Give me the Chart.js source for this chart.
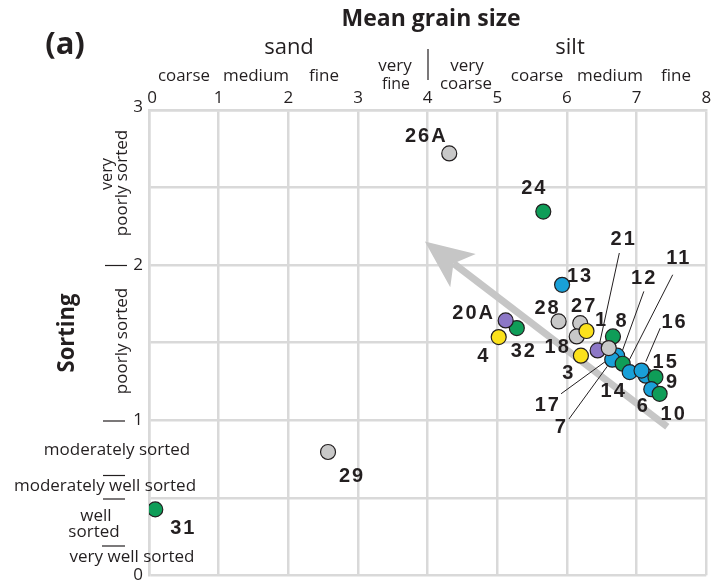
<!DOCTYPE html>
<html>
<head>
<meta charset="utf-8">
<script src="https://cdn.jsdelivr.net/npm/chart.js@4.4.1/dist/chart.umd.min.js"></script>
<style>
  html, body { margin: 0; padding: 0; background: #fff; }
  #wrap { width: 715px; height: 584px; }
</style>
</head>
<body>
<div id="wrap"><canvas id="grainChart" width="715" height="584"></canvas></div>
<script>
// sample data (mean grain size in phi, sorting)
const sampleIds = ['31', '29', '26A', '24', '13', '28', '27', '18', '1', '3', '32', '20A', '4',
                   '8', '21', '12', '7', '17', '11', '14', '15', '16', '9', '6', '10'];
const meanSize  = [0.09, 2.57, 4.31, 5.66, 5.93, 5.88, 6.19, 6.14, 6.28, 6.20, 5.28, 5.12, 5.02,
                   6.66, 6.44, 6.72, 6.65, 6.60, 6.80, 6.90, 7.13, 7.07, 7.27, 7.21, 7.33];
const sorting   = [0.425, 0.795, 2.72, 2.345, 1.873, 1.637, 1.626, 1.54, 1.575, 1.416, 1.594, 1.643, 1.536,
                   1.54, 1.45, 1.416, 1.39, 1.465, 1.364, 1.31, 1.287, 1.32, 1.278, 1.2, 1.17];
const groups    = ['green', 'gray', 'gray', 'green', 'blue', 'gray', 'gray', 'gray', 'yellow', 'yellow', 'green', 'purple', 'yellow',
                   'green', 'purple', 'blue', 'blue', 'gray', 'green', 'blue', 'blue', 'blue', 'green', 'blue', 'green'];
const xTicks = [0, 1, 2, 3, 4, 5, 6, 7, 8];
const yTicks = [0, 1, 2, 3];

// trend arrow (from fine/poor to coarse/poorer)
const arrowFrom = { x: 7.44, y: 0.958 };
const arrowTo   = { x: 3.96, y: 2.152 };

const palette = {
    green: '#0f9d58',
    gray: '#c8c8c8',
    blue: '#19a0d8',
    yellow: '#fbe11b',
    purple: '#8c77c6'
};

// label placement, pixels relative to the point (dx, dy) + optional leader line
const labelPos = {
    '31': [27, 19], '29': [23, 24], '26A': [-24, -17], '24': [-10, -23], '13': [17, -8],
    '28': [-12, -13], '27': [3, -17], '18': [-20, 11], '1': [14, -11], '3': [-13, 18],
    '32': [6, 23], '20A': [-33, -7], '4': [-16, 19], '8': [8, -15],
    '21': [25, -111, [21.7, -97.4, 1.7, -5.7]],
    '12': [26, -77, [26.7, -64.3, 5, -4.3]],
    '7': [-52, 68, [-43.3, 59.3, -5, 6.7]],
    '17': [-62, 57, [-47.7, 45.7, -1, 11.7]],
    '11': [55, -105, [50, -89, 6.7, -4]],
    '14': [-17, 19], '15': [19, -13],
    '16': [32, -48, [18.7, -42.4, 4.3, -9]],
    '9': [16, 5], '6': [-9, 17], '10': [13, 21]
};

const SANS = '"Open Sans", "Noto Sans", sans-serif';
const BOLD_LBL = 'bold 20px "Liberation Sans", Arial, sans-serif';
const INK = '#231f20';
const GRID = '#d9d9d9';

// text round the plot: [text, x, y, font, maxWidth, rotated]
const sideText = [
    ['(a)', 65, 45, 'bold 31px ' + SANS, 60],
    ['Mean grain size', 431, 19, 'bold 23px ' + SANS, 213],
    ['sand', 289, 48, '22px ' + SANS, 62],
    ['silt', 570, 48, '22px ' + SANS, 44],
    ['coarse', 184, 76, '17px ' + SANS, 52],
    ['medium', 256, 76, '17px ' + SANS, 69],
    ['fine', 324, 76, '17px ' + SANS, 31],
    ['very', 395, 66, '17px ' + SANS, 34],
    ['fine', 396, 84, '17px ' + SANS, 28],
    ['very', 467, 66, '17px ' + SANS, 35],
    ['coarse', 466, 84, '17px ' + SANS, 52],
    ['coarse', 537, 76, '17px ' + SANS, 55],
    ['medium', 610, 76, '17px ' + SANS, 70],
    ['fine', 676, 76, '17px ' + SANS, 32],
    ['very', 107, 174, '17px ' + SANS, 32, true],
    ['poorly sorted', 122, 183, '17px ' + SANS, 107, true],
    ['poorly sorted', 122, 341, '17px ' + SANS, 108, true],
    ['Sorting', 67, 333, 'bold 24px ' + SANS, 79, true],
    ['moderately sorted', 117, 450, '17px ' + SANS, 150],
    ['moderately well sorted', 105, 486, '17px ' + SANS, 186],
    ['well', 96, 516, '17px ' + SANS, 35],
    ['sorted', 94, 532, '17px ' + SANS, 52],
    ['very well sorted', 132, 557, '17px ' + SANS, 129]
];
// short separator strokes: [x1, x2, y]
const sideRules = [[105, 127, 265.5], [103, 125, 421], [103, 125, 475.5], [103, 125, 499], [102, 125, 546]];

const decorPlugin = {
    id: 'decor',
    beforeDatasetsDraw(chart) {
        const { ctx, scales: { x, y } } = chart;
        // arrow
        const x1 = x.getPixelForValue(arrowFrom.x), y1 = y.getPixelForValue(arrowFrom.y);
        const x2 = x.getPixelForValue(arrowTo.x), y2 = y.getPixelForValue(arrowTo.y);
        const ang = Math.atan2(y2 - y1, x2 - x1);
        const headLen = 48, headHalf = 21, notch = 36;
        ctx.save();
        ctx.strokeStyle = '#c6c6c6';
        ctx.fillStyle = '#c6c6c6';
        ctx.lineWidth = 7;
        ctx.beginPath();
        ctx.moveTo(x1, y1);
        ctx.lineTo(x2 - Math.cos(ang) * notch, y2 - Math.sin(ang) * notch);
        ctx.stroke();
        const bx = x2 - Math.cos(ang) * headLen, by = y2 - Math.sin(ang) * headLen;
        const nx = -Math.sin(ang), ny = Math.cos(ang);
        ctx.beginPath();
        ctx.moveTo(x2, y2);
        ctx.lineTo(bx + nx * headHalf, by + ny * headHalf);
        ctx.lineTo(x2 - Math.cos(ang) * notch, y2 - Math.sin(ang) * notch);
        ctx.lineTo(bx - nx * headHalf, by - ny * headHalf);
        ctx.closePath();
        ctx.fill();

        // leader lines
        ctx.strokeStyle = INK;
        ctx.lineWidth = 1;
        sampleIds.forEach((id, i) => {
            const p = labelPos[id];
            if (!p || !p[2]) return;
            const px = x.getPixelForValue(meanSize[i]), py = y.getPixelForValue(sorting[i]);
            ctx.beginPath();
            ctx.moveTo(px + p[2][0], py + p[2][1]);
            ctx.lineTo(px + p[2][2], py + p[2][3]);
            ctx.stroke();
        });
        ctx.restore();
    },
    afterDatasetsDraw(chart) {
        const { ctx, scales: { x, y } } = chart;
        ctx.save();
        ctx.font = BOLD_LBL;
        ctx.fillStyle = INK;
        ctx.textAlign = 'center';
        ctx.textBaseline = 'middle';
        ctx.letterSpacing = '2px';
        sampleIds.forEach((id, i) => {
            const p = labelPos[id] || [12, -12];
            const px = x.getPixelForValue(meanSize[i]), py = y.getPixelForValue(sorting[i]);
            ctx.fillText(id, px + p[0] + 1, py + p[1]);
        });
        ctx.restore();
    },
    afterDraw(chart) {
        const { ctx, scales: { x, y } } = chart;
        ctx.save();
        ctx.fillStyle = INK;
        ctx.textAlign = 'center';
        ctx.textBaseline = 'middle';
        sideText.forEach(t => {
            ctx.save();
            ctx.font = t[3];
            if (t[5]) {
                ctx.translate(t[1], t[2]);
                ctx.rotate(-Math.PI / 2);
                ctx.fillText(t[0], 0, 0, t[4]);
            } else {
                ctx.fillText(t[0], t[1], t[2], t[4]);
            }
            ctx.restore();
        });
        // tick labels
        ctx.font = '17px ' + SANS;
        xTicks.forEach(v => {
            ctx.fillText(String(v), x.getPixelForValue(v) + (v === 0 ? 3 : 0), 98);
        });
        ctx.textAlign = 'right';
        yTicks.forEach(v => {
            const py = y.getPixelForValue(v);
            ctx.fillText(String(v), 143, v === 3 ? py - 3 : py);
        });
        ctx.strokeStyle = INK;
        ctx.lineWidth = 1.2;
        sideRules.forEach(r => {
            ctx.beginPath();
            ctx.moveTo(r[0], r[2]);
            ctx.lineTo(r[1], r[2]);
            ctx.stroke();
        });
        // sand | silt divider
        ctx.beginPath();
        ctx.moveTo(428, 49);
        ctx.lineTo(428, 80);
        ctx.stroke();
        ctx.restore();
    }
};

new Chart(document.getElementById('grainChart'), {
    type: 'scatter',
    data: {
        datasets: [{
            data: meanSize.map((v, i) => ({ x: v, y: sorting[i] })),
            pointRadius: 7.5,
            pointHoverRadius: 7.5,
            pointBackgroundColor: groups.map(g => palette[g]),
            pointBorderColor: INK,
            pointBorderWidth: 1.2
        }]
    },
    options: {
        responsive: false,
        animation: false,
        layout: { padding: { left: 0, top: 0, right: 4, bottom: 8 } },
        plugins: { legend: { display: false }, tooltip: { enabled: false } },
        scales: {
            x: {
                type: 'linear',
                position: 'top',
                min: 0,
                max: 8,
                afterFit: s => { s.height = 110; },
                ticks: { display: false, stepSize: 1 },
                grid: { color: GRID, lineWidth: 2.5, drawTicks: false },
                border: { color: GRID, width: 2.5 }
            },
            y: {
                min: 0,
                max: 3,
                afterFit: s => { s.width = 149; },
                ticks: { display: false, stepSize: 0.5 },
                grid: { color: GRID, lineWidth: 2.5, drawTicks: false },
                border: { color: GRID, width: 2.5 }
            }
        }
    },
    plugins: [decorPlugin]
});
</script>
</body>
</html>
